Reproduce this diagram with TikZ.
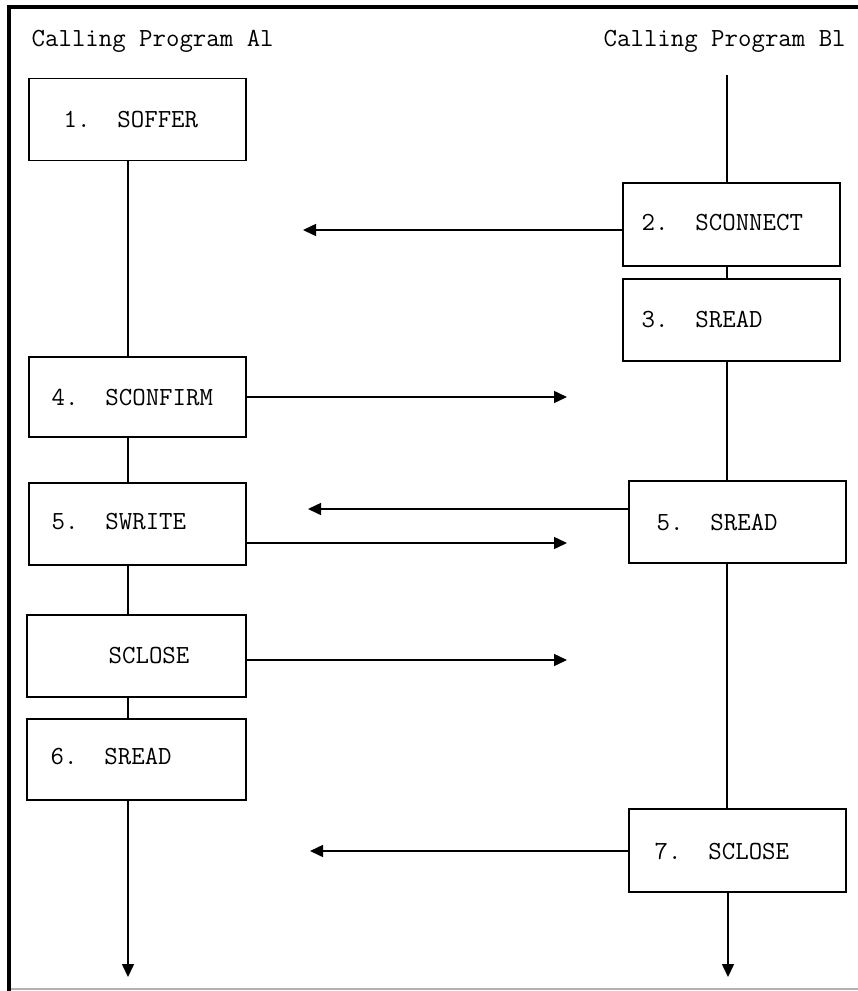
\documentclass[tikz,border=0pt]{standalone}
\usepackage{fontspec}
\usetikzlibrary{arrows.meta}
\begin{document}
\begin{tikzpicture}[x=1pt,y=-1pt,
  box/.style={draw, line width=1.5pt, rectangle, inner sep=0pt,
              minimum width=217pt, minimum height=82pt},
  txt/.style={font=\fontsize{26.1}{28}\ttfamily, inner sep=0pt, anchor=base west},
  link/.style={line width=1.5pt},
  arr/.style={line width=1.5pt, -{Triangle[length=13pt,width=12pt]}}]
\useasboundingbox (0,0) rectangle (858,991);

% outer frame
\draw[line width=3.5pt] (9,991) -- (9,7) -- (858,7);
\draw[line width=1.2pt, black!30] (11,989) -- (858,989);

% column titles
\node[txt] (titleA) at (31.5,46) {Calling Program Al};
\node[txt] (titleB) at (603.5,46) {Calling Program Bl};

% program A steps
\node[box] (b1)  at (137.5,119.5) {};
\node[box, minimum height=80pt] (b4) at (137.5,397) {};
\node[box] (b5l) at (137.5,524) {};
\node[box, minimum width=219pt] (bc) at (136.5,656) {};
\node[box, minimum width=219pt, minimum height=81pt] (b6) at (136.5,759.5) {};

\node[txt] (t1)  at (63.5,127) {1.~~SOFFER};
\node[txt] (t4)  at (51.5,405) {4.~~SCONFIRM};
\node[txt] (t5l) at (51.5,529) {5.~~SWRITE};
\node[txt] (tc)  at (108.5,663) {SCLOSE};
\node[txt] (t6)  at (50.5,764) {6.~~SREAD};

% program B steps
\node[box, minimum height=83pt] (b2) at (731.5,224.5) {};
\node[box] (b3)  at (731.5,320) {};
\node[box] (b5r) at (737.5,522) {};
\node[box, minimum height=83pt] (b7) at (737.5,850.5) {};

\node[txt] (t2)  at (641.5,230) {2.~~SCONNECT};
\node[txt] (t3)  at (641.5,327) {3.~~SREAD};
\node[txt] (t5r) at (656.5,530) {5.~~SREAD};
\node[txt] (t7)  at (654.5,859) {7.~~SCLOSE};

% life lines
\coordinate (colA) at (128,0);
\coordinate (colB) at (727,0);
\coordinate (topB) at (727,75);
\coordinate (endA) at (128,977);
\coordinate (endB) at (728,977);

\draw[link] (b1.south -| colA) -- (b4.north -| colA);
\draw[link] (b4.south -| colA) -- (b5l.north -| colA);
\draw[link] (b5l.south -| colA) -- (bc.north -| colA);
\draw[link] (bc.south -| colA) -- (b6.north -| colA);
\draw[arr]  (b6.south -| colA) -- (endA);

\draw[link] (topB) -- (b2.north -| colB);
\draw[link] (b2.south -| colB) -- (b3.north -| colB);
\draw[link] (b3.south -| colB) -- (b5r.north -| colB);
\draw[link] (b5r.south -| colB) -- (b7.north -| colB);
\draw[arr]  (b7.south -| endB) -- (endB);

% messages between the programs
\coordinate (m2) at (303,230);
\coordinate (m4) at (567,397);
\coordinate (m5r) at (308,509);
\coordinate (m5l) at (567,543);
\coordinate (mc) at (567,660);
\coordinate (m7) at (310,851);

\draw[arr] (b2.west |- m2) -- (m2);
\draw[arr] (b4.east |- m4) -- (m4);
\draw[arr] (b5r.west |- m5r) -- (m5r);
\draw[arr] (b5l.east |- m5l) -- (m5l);
\draw[arr] (bc.east |- mc) -- (mc);
\draw[arr] (b7.west |- m7) -- (m7);
\end{tikzpicture}
\end{document}
